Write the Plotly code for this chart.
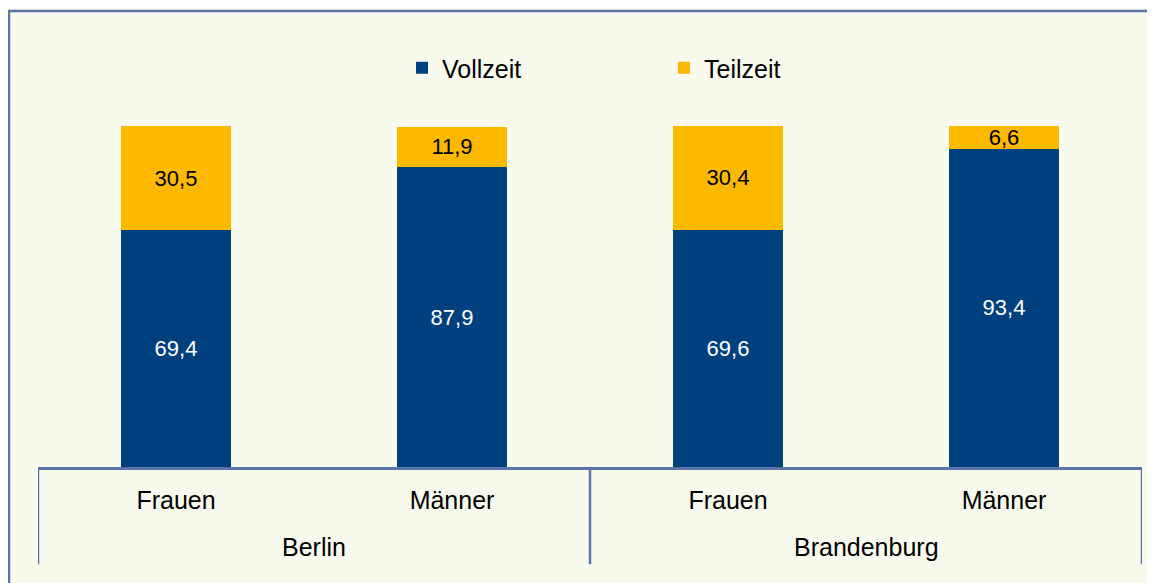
import plotly.graph_objects as go

regions = ["Berlin", "Berlin", "Brandenburg", "Brandenburg"]
genders = ["Frauen", "Männer", "Frauen", "Männer"]
vollzeit = [69.4, 87.9, 69.6, 93.4]
teilzeit = [30.5, 11.9, 30.4, 6.6]

def fmt(v):
    return f"{v:.1f}".replace(".", ",")

NAVY = "#00407F"
GOLD = "#FDB900"
BG = "#F9FAEE"
LINE = "#5A74A9"
FONT = "Liberation Sans, Arial, sans-serif"

xs = list(range(len(genders)))

fig = go.Figure()
fig.add_trace(go.Bar(
    x=xs, y=vollzeit, name="Vollzeit",
    marker=dict(color=NAVY, line=dict(width=0)),
    text=[fmt(v) for v in vollzeit], textposition="inside",
    insidetextanchor="middle", textangle=0, constraintext="none",
    textfont=dict(color="white", size=22, family=FONT),
))
fig.add_trace(go.Bar(
    x=xs, y=teilzeit, name="Teilzeit",
    marker=dict(color=GOLD, line=dict(width=0)),
    text=[fmt(v) for v in teilzeit], textposition="inside",
    insidetextanchor="middle", textangle=0, constraintext="none",
    textfont=dict(color="black", size=22, family=FONT),
))

# group labels and dividers derived from the category data
groups = []
for i, r in enumerate(regions):
    if not groups or groups[-1][0] != r:
        groups.append([r, i, i])
    else:
        groups[-1][2] = i

shapes = [dict(type="rect", xref="paper", yref="paper",
               x0=-0.0263, x1=1.2, y0=-1.0, y1=1.337,
               line=dict(color=LINE, width=2.5), fillcolor="rgba(0,0,0,0)", layer="above")]
annotations = []
bounds = sorted({g[1] - 0.5 for g in groups} | {g[2] + 0.5 for g in groups})
for b in bounds:
    shapes.append(dict(type="line", xref="x", yref="paper", x0=b, x1=b, y0=0, y1=-0.285,
                       line=dict(color=LINE, width=2.5)))
for name, i0, i1 in groups:
    annotations.append(dict(x=(i0 + i1) / 2, xref="x", y=-0.2346, yref="paper",
                            text=name, showarrow=False, yanchor="middle",
                            font=dict(size=25, family=FONT, color="black")))

fig.update_layout(
    width=1155, height=583,
    barmode="stack", bargap=0.6,
    paper_bgcolor=BG, plot_bgcolor=BG,
    margin=dict(l=30, r=21, t=118, b=124, pad=0),
    font=dict(family=FONT, size=24, color="black"),
    showlegend=True,
    legend=dict(orientation="h", x=0.3297, xanchor="left", y=1.170, yanchor="middle",
                font=dict(size=25, family=FONT, color="black"),
                bgcolor="rgba(0,0,0,0)", entrywidth=217, traceorder="normal"),
    shapes=shapes,
    annotations=annotations,
)
fig.update_xaxes(
    range=[-0.5, len(xs) - 0.5], tickmode="array", tickvals=xs, ticktext=genders,
    showline=True, linecolor=LINE, linewidth=2.5, zeroline=False,
    ticks="", showgrid=False, ticklabelstandoff=9,
    tickfont=dict(size=25, family=FONT, color="black"),
)
fig.update_yaxes(range=[0, 100], visible=False, showgrid=False, zeroline=False)

fig.write_html("out.html")
